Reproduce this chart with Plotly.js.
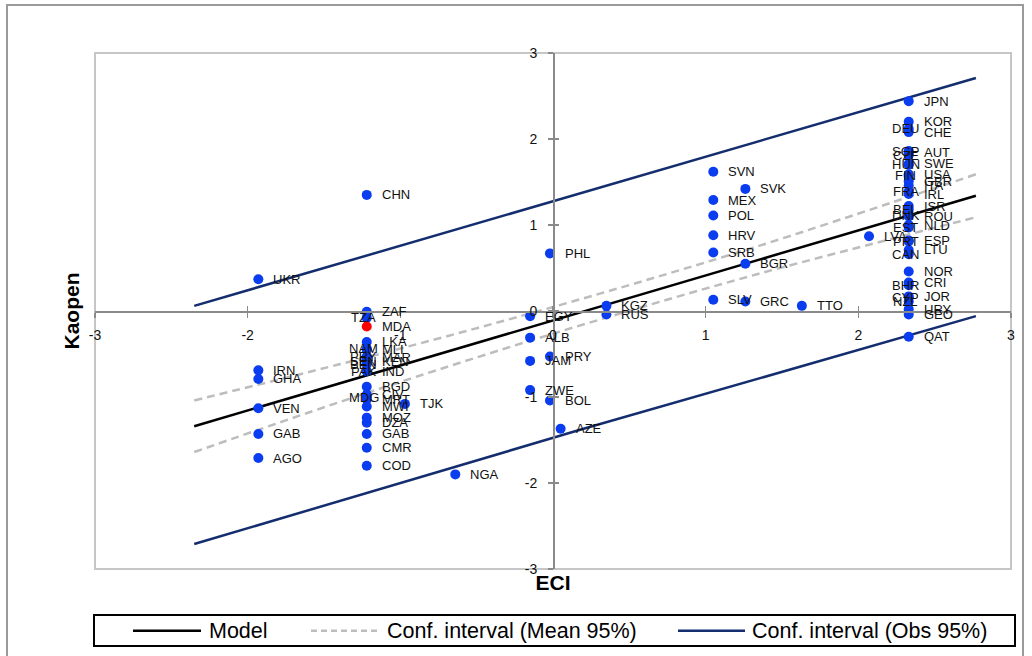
<!DOCTYPE html>
<html><head><meta charset="utf-8">
<script src="https://cdn.plot.ly/plotly-3.0.1.min.js"></script>
<style>html,body{margin:0;padding:0;background:#fff}#chart{width:1032px;height:656px}</style>
</head><body><div id="chart"></div>
<script>
// ---------------- data ----------------
const countries = ['UKR','IRN','GHA','VEN','GAB','AGO','CHN',
  'ZAF','TZA','MDA','LKA','NAM','MLI','PRY','MAR','SEN','KEN','BEN','PAK','IND','BGD','CIV','MDG','MRT','MWI','MOZ','DZA','GAB','CMR','COD',
  'TJK','NGA','EGY','ALB','JAM','ZWE','PHL','PRY','BOL','AZE','KGZ','RUS',
  'SVN','MEX','POL','HRV','SRB','SLV','SVK','BGR','GRC','TTO','LVA',
  'JPN','KOR','DEU','CHE','SGP','AUT','CZE','SWE','HUN','USA','FIN','GBR','ITA','FRA','IRL','ISR','BEL','DNK','ROU','NLD','EST','ESP','PRT','LTU','CAN','NOR','CRI','BHR','JOR','CYP','NZL','URY','GEO','QAT'];
const eci = [-1.93,-1.93,-1.93,-1.93,-1.93,-1.93,-1.22,
  -1.22,-1.22,-1.22,-1.22,-1.22,-1.22,-1.22,-1.22,-1.22,-1.22,-1.22,-1.22,-1.22,-1.22,-1.22,-1.22,-1.22,-1.22,-1.22,-1.22,-1.22,-1.22,-1.22,
  -0.97,-0.64,-0.15,-0.15,-0.15,-0.15,-0.02,-0.02,-0.02,0.05,0.35,0.35,
  1.05,1.05,1.05,1.05,1.05,1.05,1.26,1.26,1.26,1.63,2.07,
  2.33,2.33,2.33,2.33,2.33,2.33,2.33,2.33,2.33,2.33,2.33,2.33,2.33,2.33,2.33,2.33,2.33,2.33,2.33,2.33,2.33,2.33,2.33,2.33,2.33,2.33,2.33,2.33,2.33,2.33,2.33,2.33,2.33,2.33];
const kaopen = [0.37,-0.69,-0.79,-1.13,-1.43,-1.71,1.35,
  -0.01,-0.08,-0.18,-0.36,-0.44,-0.45,-0.53,-0.54,-0.59,-0.59,-0.62,-0.70,-0.70,-0.88,-0.97,-1.01,-1.03,-1.11,-1.24,-1.30,-1.43,-1.59,-1.80,
  -1.08,-1.90,-0.06,-0.31,-0.58,-0.92,0.67,-0.53,-1.04,-1.37,0.06,-0.04,
  1.62,1.29,1.11,0.88,0.68,0.13,1.42,0.55,0.11,0.06,0.87,
  2.44,2.20,2.12,2.08,1.86,1.84,1.81,1.71,1.70,1.59,1.57,1.51,1.46,1.39,1.36,1.22,1.18,1.11,1.10,1.00,0.97,0.82,0.81,0.71,0.66,0.46,0.33,0.30,0.17,0.16,0.11,0.02,-0.04,-0.30];
const highlighted = ['MDA'];

const modelX = [-2.35, 2.77];
const modelY = [-1.34, 1.34];
const obsX = [-2.35, 0.2, 2.77];
const obsUpper = [0.06, 1.38, 2.71];
const obsLower = [-2.71, -1.37, -0.06];
const meanX = [-2.35, -1.4, -0.5, 0.4, 1.3, 2.2, 2.77];
const meanUpper = [-1.04, -0.62, -0.20, 0.25, 0.73, 1.25, 1.59];
const meanLower = [-1.64, -1.06, -0.54, -0.05, 0.41, 0.83, 1.09];

const tickVals = [-3,-2,-1,0,1,2,3];
const tickText = ['-3','-2','-1','0','1','2','3'];
const legendLabels = ['Model','Conf. interval (Mean 95%)','Conf. interval (Obs 95%)'];
const xTitle = 'ECI', yTitle = 'Kaopen';

// ---------------- styling ----------------
// label placement: 'c' = centred on the point, 'r' = right of the point
const labelAlign = ['r','r','r','r','r','r','r',
  'r','c','r','r','c','r','c','r','c','r','c','c','r','r','r','c','r','r','r','r','r','r','r',
  'r','r','r','r','r','r','r','r','r','r','r','r',
  'r','r','r','r','r','r','r','r','r','r','r',
  'r','r','c','r','c','r','c','r','c','r','c','r','r','c','r','r','c','c','r','r','c','r','c','r','c','r','r','c','r','c','c','r','r','r'];

const W = 1032, H = 656, ML = 95, MR = 21, MT = 53, MB = 87;
const PW = W - ML - MR, PH = H - MT - MB;
const px = v => (v - ML) / PW;          // page px -> paper x
const py = v => (H - MB - v) / PH;      // page px -> paper y

const BLUE = '#0a3cf0', RED = '#ff0000', NAVY = '#142d6e', GREY = '#bdbdbd', AXIS = '#8a8a8a';
const FONT = 'Liberation Sans, Arial, sans-serif';

const traces = [
  {type:'scatter', mode:'lines', name:legendLabels[2], x:obsX, y:obsUpper, line:{color:NAVY, width:2.5}, hoverinfo:'skip'},
  {type:'scatter', mode:'lines', name:legendLabels[2], x:obsX, y:obsLower, line:{color:NAVY, width:2.5}, hoverinfo:'skip'},
  {type:'scatter', mode:'lines', name:legendLabels[1], x:meanX, y:meanUpper, line:{color:GREY, width:2.5, dash:'8px,5px', shape:'spline'}, hoverinfo:'skip'},
  {type:'scatter', mode:'lines', name:legendLabels[1], x:meanX, y:meanLower, line:{color:GREY, width:2.5, dash:'8px,5px', shape:'spline'}, hoverinfo:'skip'},
  {type:'scatter', mode:'lines', name:legendLabels[0], x:modelX, y:modelY, line:{color:'#000', width:2.5}, hoverinfo:'skip'},
  {type:'scatter', mode:'markers', name:'Countries', x:eci, y:kaopen, text:countries,
   marker:{size:10, color:countries.map(c => highlighted.includes(c) ? RED : BLUE)},
   hovertemplate:'%{text}: %{x}, %{y}<extra></extra>'},
  // carriers for the crossing-tick axes
  {type:'scatter', x:[], y:[], xaxis:'x2', yaxis:'y', showlegend:false, hoverinfo:'skip'},
  {type:'scatter', x:[], y:[], xaxis:'x3', yaxis:'y', showlegend:false, hoverinfo:'skip'},
  {type:'scatter', x:[], y:[], xaxis:'x', yaxis:'y2', showlegend:false, hoverinfo:'skip'},
  {type:'scatter', x:[], y:[], xaxis:'x', yaxis:'y3', showlegend:false, hoverinfo:'skip'}
];

const labelAnnotations = countries.map((c, i) => ({
  x: eci[i], y: kaopen[i], xref:'x', yref:'y', text:c, showarrow:false,
  xanchor: labelAlign[i] === 'c' ? 'center' : 'left', yanchor:'middle',
  xshift: labelAlign[i] === 'c' ? -3 : 13,
  font:{family:FONT, size:13, color:'#111'}
}));

const LEG_Y = py(630.7);
const legendAnnotations = [
  {xref:'paper', yref:'paper', x:px(207), y:LEG_Y, text:legendLabels[0], showarrow:false, xanchor:'left', yanchor:'middle', font:{family:FONT, size:21.5, color:'#000'}},
  {xref:'paper', yref:'paper', x:px(385), y:LEG_Y, text:legendLabels[1], showarrow:false, xanchor:'left', yanchor:'middle', font:{family:FONT, size:21.5, color:'#000'}},
  {xref:'paper', yref:'paper', x:px(750), y:LEG_Y, text:legendLabels[2], showarrow:false, xanchor:'left', yanchor:'middle', font:{family:FONT, size:21.5, color:'#000'}}
];

const shapes = [
  // plot area frame
  {type:'rect', xref:'paper', yref:'paper', x0:0, x1:1, y0:0, y1:1, line:{color:'#c6c6c6', width:2}, layer:'below'},
  // outer chart frame
  {type:'rect', xref:'paper', yref:'paper', x0:px(7), x1:px(1023), y0:py(662), y1:py(5), line:{color:'#9a9a9a', width:2}},
  // legend box and samples
  {type:'rect', xref:'paper', yref:'paper', x0:px(94), x1:px(1015), y0:py(646), y1:py(615), line:{color:'#000', width:2}},
  {type:'line', xref:'paper', yref:'paper', x0:px(133), x1:px(201), y0:LEG_Y, y1:LEG_Y, line:{color:'#000', width:2.5}},
  {type:'line', xref:'paper', yref:'paper', x0:px(311), x1:px(378), y0:LEG_Y, y1:LEG_Y, line:{color:GREY, width:2.5, dash:'6px,4px'}},
  {type:'line', xref:'paper', yref:'paper', x0:px(678), x1:px(745), y0:LEG_Y, y1:LEG_Y, line:{color:NAVY, width:2.5}}
];

const tickFont = {family:FONT, size:14, color:'#111'};
const layout = {
  width:W, height:H, margin:{l:ML, r:MR, t:MT, b:MB},
  paper_bgcolor:'#fff', plot_bgcolor:'#fff', showlegend:false,
  xaxis:{range:[-3,3], showgrid:false, zeroline:false, showline:false, ticks:'', showticklabels:false, fixedrange:true,
         title:{text:xTitle, font:{family:FONT, size:21, weight:'bold', color:'#000'}, standoff:6}},
  yaxis:{range:[-3,3], showgrid:false, zeroline:false, showline:false, ticks:'', showticklabels:false, fixedrange:true,
         title:{text:yTitle, font:{family:FONT, size:21, weight:'bold', color:'#000'}, standoff:8}},
  xaxis2:{overlaying:'x', anchor:'free', position:0.5, range:[-3,3], tickmode:'array', tickvals:tickVals, ticktext:tickText,
          ticks:'outside', ticklen:5, tickwidth:1.5, tickcolor:AXIS, showline:true, linecolor:AXIS, linewidth:1.5,
          showgrid:false, zeroline:false, tickfont:tickFont, ticklabelstandoff:6, fixedrange:true},
  xaxis3:{overlaying:'x', anchor:'free', position:0.5, range:[-3,3], tickmode:'array', tickvals:tickVals,
          ticks:'inside', ticklen:5, tickwidth:1.5, tickcolor:AXIS, showline:false, showticklabels:false,
          showgrid:false, zeroline:false, fixedrange:true},
  yaxis2:{overlaying:'y', anchor:'free', position:0.5, range:[-3,3], tickmode:'array', tickvals:tickVals, ticktext:tickText,
          ticks:'outside', ticklen:5, tickwidth:1.5, tickcolor:AXIS, showline:true, linecolor:AXIS, linewidth:1.5,
          showgrid:false, zeroline:false, tickfont:tickFont, ticklabelstandoff:8, fixedrange:true},
  yaxis3:{overlaying:'y', anchor:'free', position:0.5, range:[-3,3], tickmode:'array', tickvals:tickVals,
          ticks:'inside', ticklen:5, tickwidth:1.5, tickcolor:AXIS, showline:false, showticklabels:false,
          showgrid:false, zeroline:false, fixedrange:true},
  shapes: shapes,
  annotations: labelAnnotations.concat(legendAnnotations)
};

Plotly.newPlot('chart', traces, layout, {displayModeBar:false, staticPlot:true});
</script></body></html>
